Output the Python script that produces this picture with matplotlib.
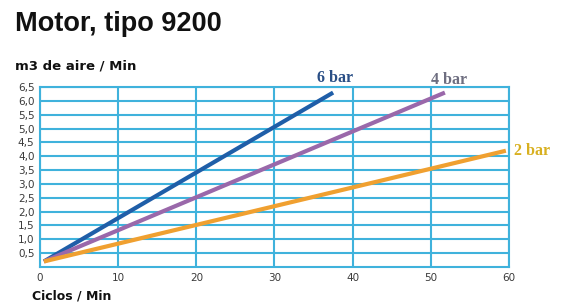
import matplotlib.pyplot as plt
import numpy as np

# air consumption lines (start / end points)
series = ["6 bar", "4 bar", "2 bar"]
ciclos = [[0.5, 37.5], [0.5, 51.8], [0.5, 59.6]]
aire = [[0.2, 6.3], [0.2, 6.3], [0.2, 4.2]]
colors = ["#1f5ea8", "#9a68aa", "#f0a030"]
label_colors = ["#2a4f86", "#6e6e80", "#d8b020"]

x_ticks = [0, 10, 20, 30, 40, 50, 60]
y_ticks = [0.5, 1.0, 1.5, 2.0, 2.5, 3.0, 3.5, 4.0, 4.5, 5.0, 5.5, 6.0, 6.5]

grid_c = "#3fb2dc"

fig = plt.figure(figsize=(5.61, 3.05), dpi=100)
ax = fig.add_axes([0.0713, 0.1246, 0.836, 0.590])

for xs, ys, c in zip(ciclos, aire, colors):
    ax.plot(xs, ys, color=c, linewidth=3, solid_capstyle="butt", zorder=3)

ax.set_xlim(0, 60)
ax.set_ylim(0, 6.5)
ax.set_xticks(x_ticks)
ax.set_yticks(y_ticks)
ax.set_yticklabels([f"{v:.1f}".replace(".", ",") for v in y_ticks])
ax.tick_params(length=0, labelsize=7.5, colors="#3a3a3a", pad=4)
ax.grid(True, color=grid_c, linewidth=1.5)
for s in ax.spines.values():
    s.set_color(grid_c)
    s.set_linewidth(1.5)

# series labels
ax.text(37.7, 6.55, "6 bar", color=label_colors[0], fontsize=11.5, fontweight="bold",
        family="Liberation Serif", ha="center", va="bottom")
ax.text(52.3, 6.45, "4 bar", color=label_colors[1], fontsize=11.5, fontweight="bold",
        family="Liberation Serif", ha="center", va="bottom")
ax.text(60.6, 4.2, "2 bar", color=label_colors[2], fontsize=11.5, fontweight="bold",
        family="Liberation Serif", ha="left", va="center", clip_on=False)

fig.text(0.027, 0.921, "Motor, tipo 9200", fontsize=19.5, fontweight="bold",
         family="Liberation Sans", va="center", color="#111111")
fig.text(0.027, 0.784, "m3 de aire / Min", fontsize=9.5, fontweight="bold",
         family="DejaVu Sans", va="center", color="#111111")
fig.text(0.057, 0.030, "Ciclos / Min", fontsize=9, fontweight="bold",
         family="DejaVu Sans", va="center", color="#111111")

fig.savefig("out.png", dpi=100)
